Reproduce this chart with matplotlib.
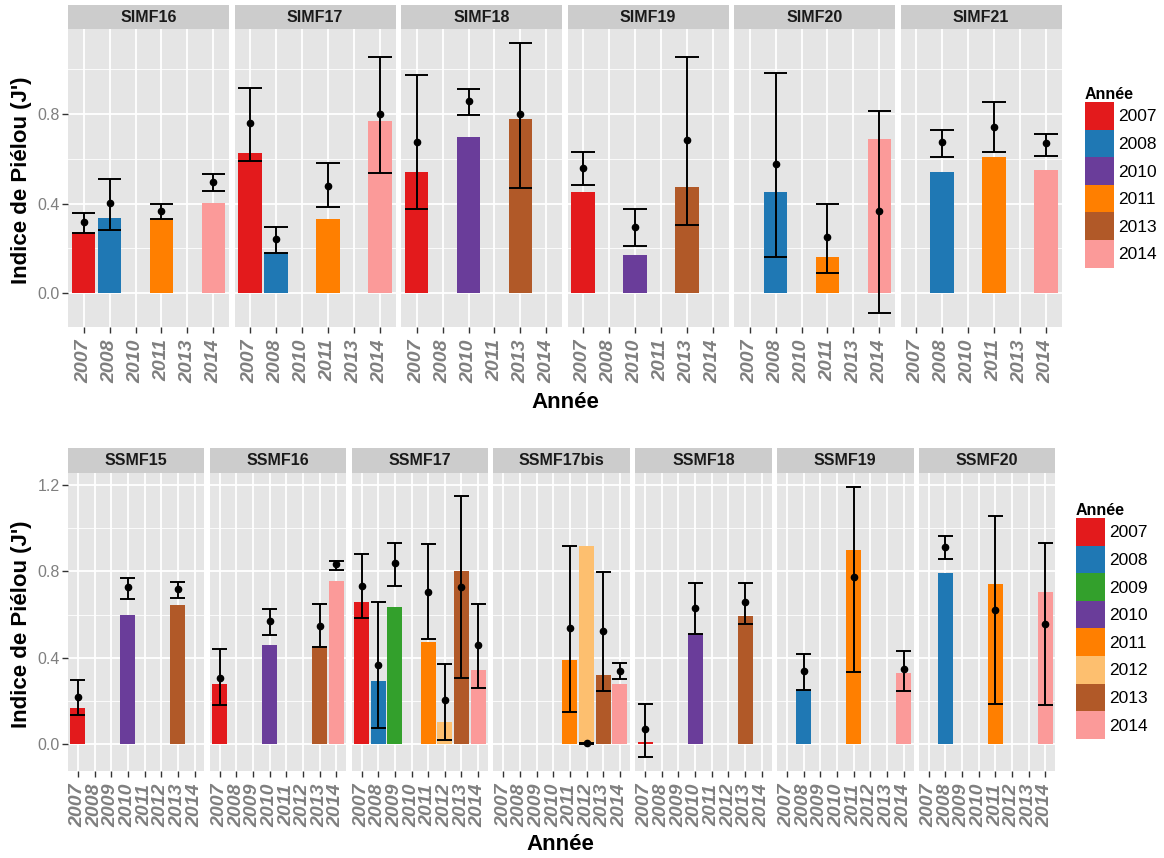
import matplotlib.pyplot as plt
import pandas as pd
from matplotlib.patches import Patch
from matplotlib.transforms import ScaledTranslation

plt.rcParams['font.family'] = ['Liberation Sans', 'DejaVu Sans']

# colours per year (ColorBrewer "Paired" subset used by the original)
year_colors = {'2007': '#E31A1C', '2008': '#1F78B4', '2009': '#33A02C', '2010': '#6A3D9A',
               '2011': '#FF7F00', '2012': '#FDBF6F', '2013': '#B15928', '2014': '#FB9A99'}

# ---- top block : SIMF stations ----
top_years = ['2007', '2008', '2010', '2011', '2013', '2014']
top_sites = ['SIMF16', 'SIMF17', 'SIMF18', 'SIMF19', 'SIMF20', 'SIMF21']
top_site = ['SIMF16'] * 4 + ['SIMF17'] * 4 + ['SIMF18'] * 3 + ['SIMF19'] * 3 + ['SIMF20'] * 3 + ['SIMF21'] * 3
top_year = ['2007', '2008', '2011', '2014', '2007', '2008', '2011', '2014',
            '2007', '2010', '2013', '2007', '2010', '2013',
            '2008', '2011', '2014', '2008', '2011', '2014']
top_bar = [0.270, 0.336, 0.329, 0.401, 0.624, 0.182, 0.329, 0.767,
           0.538, 0.696, 0.775, 0.452, 0.172, 0.473,
           0.452, 0.164, 0.687, 0.538, 0.609, 0.551]
top_mean = [0.316, 0.401, 0.367, 0.495, 0.760, 0.244, 0.480, 0.797,
            0.674, 0.855, 0.797, 0.560, 0.295, 0.681,
            0.575, 0.252, 0.366, 0.674, 0.739, 0.668]
top_low = [0.267, 0.284, 0.329, 0.455, 0.591, 0.182, 0.384, 0.536,
           0.376, 0.793, 0.470, 0.484, 0.212, 0.305,
           0.163, 0.089, -0.089, 0.607, 0.628, 0.613]
top_high = [0.356, 0.511, 0.399, 0.533, 0.914, 0.296, 0.578, 1.050,
            0.972, 0.908, 1.116, 0.627, 0.376, 1.050,
            0.979, 0.399, 0.813, 0.729, 0.850, 0.707]

# ---- bottom block : SSMF stations ----
bot_years = ['2007', '2008', '2009', '2010', '2011', '2012', '2013', '2014']
bot_sites = ['SSMF15', 'SSMF16', 'SSMF17', 'SSMF17bis', 'SSMF18', 'SSMF19', 'SSMF20']
bot_site = (['SSMF15'] * 3 + ['SSMF16'] * 4 + ['SSMF17'] * 7 + ['SSMF17bis'] * 4
            + ['SSMF18'] * 3 + ['SSMF19'] * 3 + ['SSMF20'] * 3)
bot_year = ['2007', '2010', '2013', '2007', '2010', '2013', '2014',
            '2007', '2008', '2009', '2011', '2012', '2013', '2014',
            '2011', '2012', '2013', '2014', '2007', '2010', '2013',
            '2008', '2011', '2014', '2008', '2011', '2014']
bot_bar = [0.168, 0.598, 0.645, 0.278, 0.457, 0.455, 0.757,
           0.660, 0.294, 0.637, 0.474, 0.106, 0.802, 0.346,
           0.392, 0.918, 0.323, 0.278, 0.011, 0.508, 0.591,
           0.252, 0.897, 0.331, 0.794, 0.742, 0.703]
bot_mean = [0.220, 0.726, 0.720, 0.309, 0.571, 0.548, 0.832,
            0.734, 0.369, 0.838, 0.705, 0.206, 0.726, 0.458,
            0.540, 0.005, 0.526, 0.340, 0.071, 0.629, 0.660,
            0.340, 0.772, 0.348, 0.914, 0.622, 0.555]
bot_low = [0.137, 0.671, 0.678, 0.180, 0.506, 0.449, 0.805,
           0.582, 0.075, 0.731, 0.485, 0.022, 0.308, 0.262,
           0.148, 0.000, 0.245, 0.300, -0.060, 0.508, 0.558,
           0.252, 0.335, 0.245, 0.857, 0.186, 0.180]
bot_high = [0.298, 0.768, 0.752, 0.440, 0.626, 0.649, 0.849,
            0.878, 0.657, 0.932, 0.925, 0.372, 1.148, 0.649,
            0.917, 0.008, 0.798, 0.374, 0.186, 0.745, 0.745,
            0.417, 1.191, 0.432, 0.962, 1.057, 0.932]

W, H = 1164, 858
fig = plt.figure(figsize=(W / 100, H / 100), dpi=100)


def px(x, y, w, h):
    return [x / W, 1 - (y + h) / H, w / W, h / H]


def draw_block(df, sites, years, left, step, width, top, strip_h, panel_h):
    ymin = min(df['low'].min(), 0)
    ymax = df['high'].max()
    pad = 0.05 * (ymax - ymin)
    shift = ScaledTranslation(0.09, 0, fig.dpi_scale_trans)
    for i, site in enumerate(sites):
        x0 = left + i * step
        ax = fig.add_axes(px(x0, top + strip_h, width, panel_h))
        d = df[df['site'] == site]
        pos = [years.index(y) for y in d['year']]
        ax.bar(pos, d['bar'], width=0.9, color=[year_colors[y] for y in d['year']], zorder=2)
        ax.vlines(pos, d['low'], d['high'], color='black', lw=1.4, zorder=3)
        for lim in ('low', 'high'):
            ax.hlines(d[lim], [p - 0.45 for p in pos], [p + 0.45 for p in pos],
                      color='black', lw=1.4, zorder=3)
        ax.plot(pos, d['mean'], 'o', color='black', ms=4.5, zorder=4)

        ax.set_facecolor('#E5E5E5')
        ax.set_axisbelow(True)
        ax.set_xticks(range(len(years)))
        ax.set_xticklabels(years, rotation=90, fontsize=14, fontweight='bold',
                           fontstyle='italic', color='#7F7F7F', ha='center', va='top')
        for lab in ax.get_xticklabels():
            lab.set_transform(lab.get_transform() + shift)
        ax.set_yticks([0.0, 0.4, 0.8, 1.2])
        ax.set_yticks([0.2, 0.6, 1.0], minor=True)
        ax.set_xlim(-0.6, len(years) - 0.4)
        ax.set_ylim(ymin - pad, ymax + pad)
        ax.grid(which='major', color='white', lw=1.3)
        ax.grid(which='minor', axis='y', color='white', lw=0.6)
        ax.tick_params(axis='x', length=4, width=1, color='#333333', pad=5)
        ax.tick_params(axis='y', which='minor', length=0)
        if i == 0:
            ax.set_yticklabels(['0.0', '0.4', '0.8', '1.2'])
            ax.tick_params(axis='y', which='major', length=4, width=1, color='#333333',
                           labelsize=11.5, labelcolor='#7F7F7F', pad=2)
        else:
            ax.tick_params(axis='y', which='major', left=False, labelleft=False)
        for s in ax.spines.values():
            s.set_visible(False)

        sax = fig.add_axes(px(x0, top, width, strip_h))
        sax.set_facecolor('#CCCCCC')
        sax.set_xticks([])
        sax.set_yticks([])
        for s in sax.spines.values():
            s.set_visible(False)
        sax.text(0.5, 0.5, site, ha='center', va='center', fontsize=11.5,
                 fontweight='bold', color='#1A1A1A', transform=sax.transAxes)


def add_legend(years, x, y):
    handles = [Patch(facecolor=year_colors[yr], label=yr) for yr in years]
    fig.legend(handles=handles, loc='upper left', bbox_to_anchor=(x / W, 1 - y / H),
               frameon=False, title='Année', title_fontproperties={'weight': 'bold', 'size': 11.5},
               fontsize=12.5, handlelength=1.68, handleheight=2.07, labelspacing=0,
               handletextpad=0.25, borderpad=0, borderaxespad=0, alignment='left')


top_df = pd.DataFrame({'site': top_site, 'year': top_year, 'bar': top_bar,
                       'mean': top_mean, 'low': top_low, 'high': top_high})
bot_df = pd.DataFrame({'site': bot_site, 'year': bot_year, 'bar': bot_bar,
                       'mean': bot_mean, 'low': bot_low, 'high': bot_high})

draw_block(top_df, top_sites, top_years, left=68, step=166.5, width=161,
           top=5, strip_h=24, panel_h=298)
draw_block(bot_df, bot_sites, bot_years, left=68, step=141.8, width=136.5,
           top=448, strip_h=25, panel_h=298)

add_legend(top_years, 1085, 87)
add_legend(bot_years, 1076, 503)

fig.text(565 / W, 1 - 402 / H, 'Année', ha='center', va='center', fontsize=16, fontweight='bold')
fig.text(560 / W, 1 - 845 / H, 'Année', ha='center', va='center', fontsize=16, fontweight='bold')
fig.text(22 / W, 1 - 180 / H, "Indice de Piélou (J')", rotation=90, ha='center', va='center',
         fontsize=16, fontweight='bold')
fig.text(22 / W, 1 - 624 / H, "Indice de Piélou (J')", rotation=90, ha='center', va='center',
         fontsize=16, fontweight='bold')

fig.savefig('out.png', dpi=100)
